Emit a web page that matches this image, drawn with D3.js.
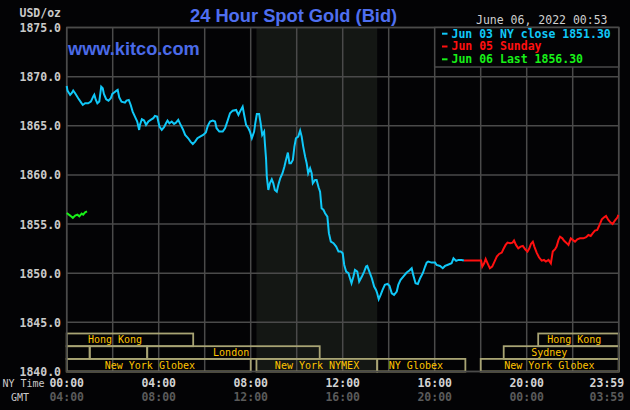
<!DOCTYPE html>
<html><head><meta charset="utf-8">
<script src="https://cdn.jsdelivr.net/npm/d3@7"></script>
<style>html,body{margin:0;padding:0;background:#000;}svg{display:block}</style>
</head><body><svg id="c" width="630" height="410"></svg>
<script>
// ---------------- DATA ----------------
const priceTicks = [1875, 1870, 1865, 1860, 1855, 1850, 1845, 1840];
const timeTickMinutes = [0, 240, 480, 720, 960, 1200, 1439];
const nyTimeLabels = ["00:00", "04:00", "08:00", "12:00", "16:00", "20:00", "23:59"];
const gmtLabels = ["04:00", "08:00", "12:00", "16:00", "20:00", "00:00", "03:59"];

// Jun 03 (minutes after NY midnight, price)
const jun03Minutes = [0,2,9,13,17,22,30,36,42,48,56,63,70,72,76,80,85,90,94,97,103,109,115,119,123,130,133,137,143,152,156,162,167,172,178,184,189,191,196,202,207,213,219,226,230,236,242,248,254,259,263,268,274,280,285,291,296,303,309,317,323,329,335,341,348,356,363,368,374,381,387,391,398,407,413,419,426,433,442,448,452,459,463,468,474,478,483,489,492,496,502,506,510,515,517,520,522,526,530,535,539,543,548,552,557,563,568,572,577,581,585,590,594,598,604,609,613,617,622,626,630,635,639,642,648,652,657,661,665,670,674,680,684,689,696,703,709,715,720,724,729,735,739,743,748,752,758,763,770,776,781,784,791,796,802,807,810,814,819,824,830,837,842,848,854,861,865,871,878,887,894,900,904,910,916,922,929,935,939,943,952,961,965,974,981,987,993,1004,1009,1016,1022,1030,1036];
const jun03Prices = [1869.05,1868.58,1868.14,1868.31,1868.58,1868.31,1867.80,1867.46,1867.12,1867.29,1867.29,1867.46,1868.04,1868.17,1867.63,1867.29,1867.46,1868.98,1868.81,1868.24,1867.70,1867.56,1867.80,1868.24,1868.37,1868.58,1868.65,1867.90,1867.46,1867.36,1867.56,1867.63,1867.12,1866.44,1865.93,1865.43,1864.58,1865.09,1865.66,1865.53,1865.09,1865.43,1865.60,1865.77,1866.00,1865.93,1864.92,1864.58,1864.85,1865.26,1865.53,1865.26,1865.43,1865.19,1865.32,1865.60,1865.19,1864.65,1864.07,1863.73,1863.39,1863.15,1863.39,1863.73,1863.90,1864.07,1864.31,1864.99,1865.43,1865.53,1865.43,1864.75,1864.41,1864.41,1864.75,1865.43,1866.27,1866.54,1866.61,1866.10,1866.44,1866.95,1866.10,1865.09,1864.75,1864.41,1863.73,1864.41,1865.26,1866.20,1866.20,1865.25,1864.07,1864.41,1863.22,1861.69,1859.83,1858.47,1859.15,1859.56,1859.15,1858.47,1858.30,1858.98,1859.66,1860.17,1860.85,1861.53,1862.27,1861.19,1861.19,1861.53,1862.88,1863.73,1863.90,1864.51,1863.90,1862.88,1861.86,1861.19,1860.17,1860.68,1860.17,1859.15,1859.49,1859.49,1858.74,1858.30,1856.61,1856.44,1856.10,1855.76,1854.07,1853.22,1853.05,1852.71,1852.20,1852.20,1852.03,1850.84,1850.17,1850.00,1849.49,1848.98,1849.66,1850.34,1850.17,1849.15,1849.66,1850.17,1850.68,1850.74,1850.00,1849.49,1848.64,1848.30,1847.96,1847.35,1847.79,1848.30,1848.81,1848.91,1848.71,1847.96,1847.79,1848.13,1848.81,1849.32,1849.66,1850.07,1850.27,1850.51,1849.83,1848.98,1848.91,1849.49,1850.00,1850.68,1851.08,1851.18,1851.08,1851.08,1850.84,1850.74,1850.51,1850.74,1850.84,1851.01,1851.52,1851.25,1851.35,1851.35,1851.30];

// Jun 05 Sunday
const jun05Minutes = [1036,1081,1084,1089,1093,1098,1104,1110,1116,1122,1128,1135,1139,1145,1150,1157,1163,1167,1172,1178,1184,1190,1196,1202,1207,1211,1216,1220,1226,1232,1239,1245,1250,1257,1263,1268,1274,1278,1283,1287,1293,1297,1303,1309,1315,1320,1326,1332,1339,1348,1355,1361,1367,1372,1378,1384,1390,1396,1402,1407,1413,1419,1424,1430,1437,1439];
const jun05Prices = [1851.30,1851.30,1850.67,1851.01,1851.45,1851.01,1850.50,1850.67,1851.18,1851.69,1851.96,1852.10,1852.44,1852.88,1853.11,1853.05,1853.11,1853.32,1852.88,1852.54,1852.71,1852.77,1852.44,1852.20,1852.54,1852.98,1853.21,1852.71,1852.10,1851.62,1851.28,1851.35,1851.18,1851.35,1851.01,1852.20,1852.44,1852.71,1853.39,1853.72,1853.55,1853.32,1853.11,1852.88,1853.55,1853.39,1853.21,1853.45,1853.55,1853.55,1853.66,1853.89,1853.79,1854.06,1854.33,1854.40,1854.91,1855.49,1855.69,1855.82,1855.42,1855.15,1855.01,1855.35,1855.69,1855.93];

// Jun 06 Last
const jun06Minutes = [0,9,16,22,28,33,39,43,48,53];
const jun06Prices = [1856.13,1855.86,1855.62,1855.86,1855.96,1855.79,1856.06,1855.96,1856.20,1856.30];

const legendLabels = ["Jun 03 NY close 1851.30", "Jun 05 Sunday", "Jun 06 Last 1856.30"];

// Trading sessions: row, start minute, end minute, label, label centre minute
const sessionRows   = [0, 0, 1, 1, 1, 1, 2, 2, 2, 2];
const sessionStart  = [0, 1230, 0, 60, 210, 1140, 0, 495, 810, 1080];
const sessionEnd    = [330, 1440, 60, 210, 660, 1440, 480, 810, 1040, 1440];
const sessionLabels = ["Hong Kong", "Hong Kong", "", "", "London", "Sydney", "New York Globex", "New York NYMEX", "NY Globex", "New York Globex"];
const sessionLabelAt = [126, 1324, 30, 135, 429, 1259, 217, 653, 911, 1259];
const nymexStart = 495, nymexEnd = 810;

const titleText = "24 Hour Spot Gold (Bid)";
const dateText = "June 06, 2022 00:53";

// ---------------- DRAW ----------------
const svg = d3.select("#c");
const W = 630, H = 410;
const pLeft = 66.7, pRight = 618.7, pTop = 27.5, pBottom = 371.5;
const x = d3.scaleLinear().domain([0, 1440]).range([pLeft, pRight]);
const y = d3.scaleLinear().domain([1840, 1875]).range([pBottom, pTop]);
const mono = "'DejaVu Sans Mono', monospace";
const sans = "'Liberation Sans', Arial, sans-serif";
const gridColor = "#4a4a4a";

svg.append("rect").attr("width", W).attr("height", H).attr("fill", "#030305");

// NYMEX shaded band
svg.append("rect").attr("x", x(nymexStart)).attr("y", pTop)
  .attr("width", x(nymexEnd) - x(nymexStart)).attr("height", pBottom - pTop)
  .attr("fill", "#141714");

// grid
const g = svg.append("g");
g.selectAll("line.v").data(d3.range(0, 1441, 120)).join("line")
  .attr("x1", d => x(d)).attr("x2", d => x(d))
  .attr("y1", pTop).attr("y2", pBottom)
  .attr("stroke", gridColor).attr("stroke-width", 1.5);
g.selectAll("line.h").data(priceTicks).join("line")
  .attr("x1", pLeft).attr("x2", pRight)
  .attr("y1", d => y(d)).attr("y2", d => y(d))
  .attr("stroke", gridColor).attr("stroke-width", 1.5);

// y labels
svg.append("g").selectAll("text").data(priceTicks).join("text")
  .attr("x", 61).attr("y", d => y(d) + 4.5)
  .attr("text-anchor", "end")
  .attr("font-family", mono).attr("font-weight", "bold").attr("font-size", "11.5px")
  .attr("fill", "#cacaca").text(d => d.toFixed(1));
svg.append("text").attr("x", 61).attr("y", 17).attr("text-anchor", "end")
  .attr("font-family", mono).attr("font-weight", "bold").attr("font-size", "11.5px")
  .attr("fill", "#cacaca").text("USD/oz");

// sessions
const sess = svg.append("g");
const rowTop = r => 333.5 + r * 12.7;
const rowH = 12.7;
sessionRows.forEach((r, i) => {
  const x0 = x(sessionStart[i]), x1 = Math.min(x(sessionEnd[i]), pRight);
  sess.append("rect").attr("x", x0).attr("y", rowTop(r))
    .attr("width", x1 - x0).attr("height", r === 2 ? pBottom - rowTop(r) : rowH)
    .attr("fill", "none").attr("stroke", "#a8a474").attr("stroke-width", 1.8);
});
sessionRows.forEach((r, i) => {
  if (!sessionLabels[i]) return;
  sess.append("text").attr("x", x(sessionLabelAt[i])).attr("y", rowTop(r) + rowH - 3)
    .attr("text-anchor", "middle").attr("font-family", mono).attr("font-size", "10px")
    .attr("fill", "#ffc400").text(sessionLabels[i]);
});

// plot frame
svg.append("rect").attr("x", pLeft).attr("y", pTop).attr("width", pRight - pLeft).attr("height", pBottom - pTop)
  .attr("fill", "none").attr("stroke", gridColor).attr("stroke-width", 1.5);

// series
const line = d3.line().x(d => x(d[0])).y(d => y(d[1]));
const series = [
  [d3.zip(jun05Minutes, jun05Prices), "#ff1010"],
  [d3.zip(jun03Minutes, jun03Prices), "#10c8f8"],
  [d3.zip(jun06Minutes, jun06Prices), "#18f018"]
];
series.forEach(([pts, col]) => {
  svg.append("path").attr("d", line(pts)).attr("fill", "none")
    .attr("stroke", col).attr("stroke-width", 2).attr("stroke-linejoin", "miter");
});

// legend
const lgX0 = x(960), lgY0 = pTop;
svg.append("rect").attr("x", lgX0).attr("y", lgY0).attr("width", pRight - lgX0).attr("height", 39.5)
  .attr("fill", "#030305").attr("stroke", gridColor).attr("stroke-width", 1.5);
const legendColors = ["#10c8f8", "#ff1010", "#18f018"];
legendLabels.forEach((t, i) => {
  const by = 37.5 + i * 12.8;
  svg.append("rect").attr("x", 442).attr("y", by - 4.8).attr("width", 5.5).attr("height", 2)
    .attr("fill", legendColors[i]);
  svg.append("text").attr("x", 451.5).attr("y", by)
    .attr("font-family", mono).attr("font-weight", "bold").attr("font-size", "11.5px")
    .attr("fill", legendColors[i]).text(t);
});

// title & branding
svg.append("text").attr("x", 190).attr("y", 21.5)
  .attr("font-family", sans).attr("font-weight", "bold").attr("font-size", "18.3px")
  .attr("fill", "#4f6ff0").text(titleText);
svg.append("text").attr("x", 68).attr("y", 55)
  .attr("font-family", sans).attr("font-weight", "bold").attr("font-size", "18.2px")
  .attr("fill", "#4a6ae8").text("www.kitco.com");
svg.append("text").attr("x", 476).attr("y", 24)
  .attr("font-family", mono).attr("font-size", "11.5px")
  .attr("fill", "#d0d0d0").text(dateText);

// time labels
const tl = svg.append("g").attr("font-family", mono).attr("font-weight", "bold").attr("font-size", "11.5px");
timeTickMinutes.forEach((m, i) => {
  const last = i === timeTickMinutes.length - 1;
  const tx = last ? pRight + 5.5 : x(m);
  const anchor = last ? "end" : "middle";
  tl.append("text").attr("x", tx).attr("y", 387).attr("text-anchor", anchor)
    .attr("fill", "#d2d2d2").text(nyTimeLabels[i]);
  tl.append("text").attr("x", tx).attr("y", 401).attr("text-anchor", anchor)
    .attr("fill", "#5a5a5a").text(gmtLabels[i]);
});
svg.append("text").attr("x", 2.5).attr("y", 387).attr("font-family", mono).attr("font-size", "10px")
  .attr("fill", "#cacaca").text("NY Time");
svg.append("text").attr("x", 11).attr("y", 401).attr("font-family", mono).attr("font-size", "10px")
  .attr("fill", "#cacaca").text("GMT");
</script>
</body></html>
